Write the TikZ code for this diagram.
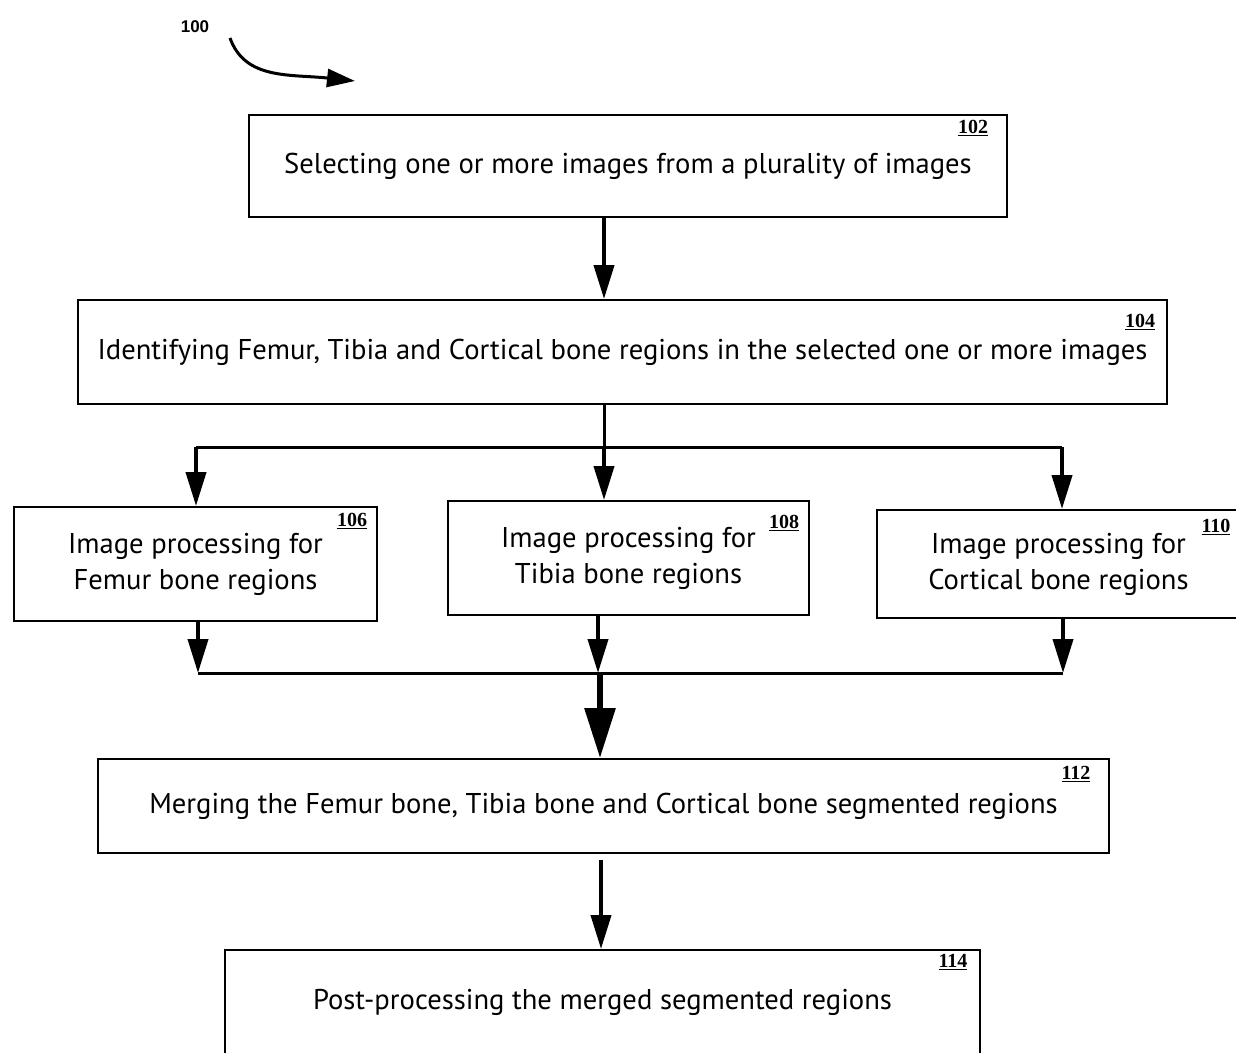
\documentclass[tikz,border=0pt]{standalone}
\usepackage{fontspec}
\setmainfont{PT Sans}
\newfontfamily\refnumfont{Liberation Serif}
\newfontfamily\figfont{Liberation Sans}
\usetikzlibrary{arrows.meta}

\tikzset{
  stepbox/.style={draw, line width=2pt, rectangle, inner sep=0pt, align=center,
    font=\fontsize{28.6}{36}\selectfont},
  refnum/.style={font=\refnumfont\bfseries\fontsize{20}{20}\selectfont, inner sep=0pt},
  flow/.style={line width=4pt, -{Triangle[length=34pt,width=20pt]}},
  bus/.style={line width=3pt},
  bigflow/.style={line width=6pt, -{Triangle[length=50pt,width=30pt]}},
}
\newcommand{\refno}[1]{\underline{#1}}

\begin{document}
\begin{tikzpicture}[x=1pt,y=-1pt]
\useasboundingbox (0,0) rectangle (1236,1052);

% figure reference
\node[font=\figfont\bfseries\fontsize{17}{17}\selectfont] (fig) at (195,27) {100};
\coordinate (cs) at (230,38);
\coordinate (ce) at (355,81);
\draw[line width=3pt, -{Triangle[length=28pt,width=18pt]}] (cs) .. controls (245,80) and (290,74) .. (ce);

% process steps
\node[stepbox, minimum width=758pt, minimum height=102pt] (s102) at (628,166)
  {Selecting one or more images from a plurality of images};
\node[refnum] at (973,128) {\refno{102}};

\node[stepbox, minimum width=1089pt, minimum height=104pt] (s104) at (622.5,352)
  {Identifying Femur, Tibia and Cortical bone regions in the selected one or more images};
\node[refnum] at (1140,322) {\refno{104}};

\node[stepbox, minimum width=363pt, minimum height=114pt] (s106) at (195.5,564)
  {Image processing for\\Femur bone regions};
\node[refnum] at (352,521) {\refno{106}};

\node[stepbox, minimum width=361pt, minimum height=114pt] (s108) at (628.5,558)
  {Image processing for\\Tibia bone regions};
\node[refnum] at (784,523) {\refno{108}};

\node[stepbox, minimum width=363pt, minimum height=108pt] (s110) at (1058.5,564)
  {Image processing for\\Cortical bone regions};
\node[refnum] at (1216,527) {\refno{110}};

\node[stepbox, minimum width=1011pt, minimum height=94pt] (s112) at (603.5,806)
  {Merging the Femur bone, Tibia bone and Cortical bone segmented regions};
\node[refnum] at (1076,774) {\refno{112}};

\node[stepbox, minimum width=755pt, minimum height=104pt] (s114) at (602.5,1002)
  {Post-processing the merged segmented regions};
\node[refnum] at (953,962) {\refno{114}};

% junction points
\coordinate (split) at (604,447);
\coordinate (splitL) at (196,447);
\coordinate (splitR) at (1062,447);
\coordinate (joinL) at (198,673);
\coordinate (joinM) at (600,673);
\coordinate (joinR) at (1063,673);

% connectors
\draw[flow] (s102.south -| split) -- (s104.north -| split);

\draw[bus] (s104.south -| split) -- (split);
\draw[bus] (splitL) -- (splitR);
\draw[flow] (splitL) -- (s106.north -| splitL);
\draw[flow] (split) -- (s108.north -| split);
\draw[flow] (splitR) -- (s110.north -| splitR);

\draw[flow] (s106.south -| joinL) -- (joinL);
\draw[flow] (s108.south -| 598,0) -- (598,673);
\draw[flow] (s110.south -| joinR) -- (joinR);
\draw[bus] (joinL) -- (joinR);
\draw[bigflow] (joinM) -- (s112.north -| joinM);

\draw[flow] (601,860) -- (s114.north -| 601,0);
\end{tikzpicture}
\end{document}
